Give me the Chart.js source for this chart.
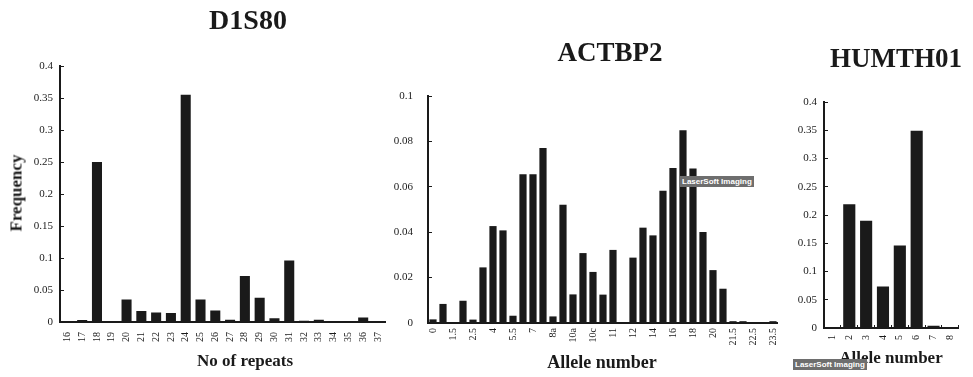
<!DOCTYPE html>
<html>
<head>
<meta charset="utf-8">
<script src="https://cdn.jsdelivr.net/npm/chart.js@4.4.1/dist/chart.umd.min.js"></script>
<style>
  html, body { margin: 0; padding: 0; background: #fff; }
  #page { position: relative; width: 973px; height: 377px; overflow: hidden; font-family: "Liberation Serif", serif; color: #1a1a1a; }
  canvas { position: absolute; top: 0; }
  .txt { position: absolute; transform: translate(-50%, -50%); white-space: nowrap; line-height: 1; font-weight: bold; }
  .mark { position: absolute; background: #6e6e6e; color: #fff; font: bold 8px "Liberation Sans", sans-serif; line-height: 11px; padding: 0 2px; }
</style>
</head>
<body>
<div id="page">
  <canvas id="d1s80" width="400" height="377" style="left:0px"></canvas>
  <canvas id="actbp2" width="410" height="377" style="left:380px"></canvas>
  <canvas id="humth01" width="193" height="377" style="left:780px"></canvas>

  <div class="txt" style="left:248px; top:20px; font-size:28px;">D1S80</div>
  <div class="txt" style="left:610px; top:52px; font-size:27px;">ACTBP2</div>
  <div class="txt" style="left:896px; top:58px; font-size:27px;">HUMTH01</div>

  <div class="txt" style="left:16px; top:193px; font-size:17px; transform: translate(-50%, -50%) rotate(-90deg);">Frequency</div>
  <div class="txt" style="left:245px; top:360px; font-size:17px;">No of repeats</div>
  <div class="txt" style="left:602px; top:362px; font-size:18px;">Allele number</div>
  <div class="txt" style="left:891px; top:357px; font-size:17px;">Allele number</div>

  <div class="mark" style="left:680px; top:176px;">LaserSoft Imaging</div>
  <div class="mark" style="left:793px; top:359px;">LaserSoft Imaging</div>
</div>

<script>
// D1S80 - 重复次数分布
const d1s80Labels = ['16','17','18','19','20','21','22','23','24','25','26','27','28','29','30','31','32','33','34','35','36','37'];
const d1s80Values = [0.0015, 0.003, 0.25, 0, 0.035, 0.017, 0.015, 0.014, 0.355, 0.035, 0.018, 0.0035, 0.072, 0.038, 0.006, 0.096, 0.002, 0.0035, 0.001, 0.001, 0.007, 0];

// ACTBP2 - only every other allele is labelled on the axis
const actbp2Labels = ['0','','1.5','','2.5','','4','','5.5','','7','','8a','','10a','','10c','','11','',
                      '12','','14','','16','','18','','20','','21.5','','22.5','','23.5'];
const actbp2Values = [0.0016, 0.0084, 0, 0.0098, 0.0015, 0.0245, 0.0427, 0.0408, 0.0032, 0.0655, 0.0655, 0.0771,
                      0.0029, 0.0521, 0.0126, 0.0308, 0.0225, 0.0125, 0.0322, 0, 0.0288, 0.042, 0.0386, 0.0583,
                      0.0683, 0.0849, 0.0681, 0.0401, 0.0233, 0.0151, 0.0008, 0.0008, 0, 0, 0.0008];

// HUMTH01
const humth01Labels = ['1','2','3','4','5','6','7','8'];
const humth01Values = [0.001, 0.219, 0.19, 0.0735, 0.146, 0.349, 0.004, 0];

const INK = '#1a1a1a';
const SERIF = 'Liberation Serif';

function fmt(v) {
    return String(Number(v.toFixed(3)));
}

/**
 * 创建一个频率柱状图
 */
function makeChart(id, labels, values, cfg) {
    const ctx = document.getElementById(id).getContext('2d');
    return new Chart(ctx, {
        type: 'bar',
        data: {
            labels: labels,
            datasets: [{
                data: values,
                backgroundColor: INK,
                borderWidth: 0,
                barPercentage: cfg.barPct,
                categoryPercentage: 1
            }]
        },
        options: {
            responsive: false,
            animation: false,
            devicePixelRatio: 1,
            layout: {
                padding: { top: cfg.top, right: cfg.right, bottom: 0, left: 0 }
            },
            plugins: {
                legend: { display: false },
                tooltip: { enabled: false },
                title: { display: false }
            },
            scales: {
                x: {
                    grid: cfg.xTicks
                        ? { display: true, drawOnChartArea: false, drawTicks: true, tickLength: -3, color: INK }
                        : { display: false, drawTicks: false },
                    border: { display: true, color: INK, width: 2 },
                    ticks: {
                        autoSkip: false,
                        minRotation: 90,
                        maxRotation: 90,
                        padding: cfg.xPad,
                        color: INK,
                        font: { family: SERIF, size: 10 }
                    },
                    afterFit: (scale) => { scale.height = cfg.xHeight; }
                },
                y: {
                    min: 0,
                    max: cfg.max,
                    grid: { display: true, drawOnChartArea: false, drawTicks: true, tickLength: -4, color: INK },
                    border: { display: true, color: INK, width: 2 },
                    ticks: {
                        stepSize: cfg.step,
                        padding: cfg.yPad,
                        color: INK,
                        font: { family: SERIF, size: 11 },
                        callback: (v) => fmt(v)
                    },
                    afterFit: (scale) => { scale.width = cfg.yWidth; }
                }
            }
        }
    });
}

makeChart('d1s80', d1s80Labels, d1s80Values, {
    max: 0.4, step: 0.05, top: 66, right: 1, yWidth: 60, xHeight: 55,
    yPad: 11, xPad: 10, barPct: 0.68, xTicks: false
});

makeChart('actbp2', actbp2Labels, actbp2Values, {
    max: 0.1, step: 0.02, top: 96, right: 2, yWidth: 48, xHeight: 54,
    yPad: 19, xPad: 5, barPct: 0.72, xTicks: false
});

makeChart('humth01', humth01Labels, humth01Values, {
    max: 0.4, step: 0.05, top: 102, right: 10, yWidth: 44, xHeight: 49,
    yPad: 11, xPad: 10, barPct: 0.72, xTicks: true
});
</script>
</body>
</html>
